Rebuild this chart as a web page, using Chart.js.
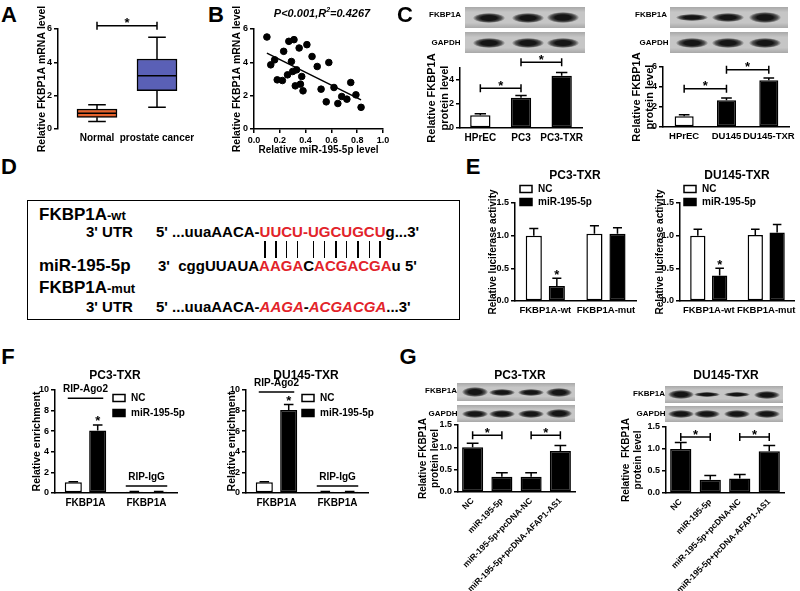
<!DOCTYPE html>
<html>
<head>
<meta charset="utf-8">
<script src="https://cdn.jsdelivr.net/npm/chart.js@4.4.1/dist/chart.umd.min.js"></script>
<style>
body { margin: 0; background: #fff; }
#fig { position: relative; width: 800px; height: 591px; overflow: hidden; font-family: 'Liberation Sans', Arial, sans-serif; font-weight: bold; color: #000; }
#fig canvas { position: absolute; }
.t { position: absolute; white-space: pre; line-height: 1; }
.r { color: #e2232a; }
.strip { position: absolute; background: linear-gradient(#a8a8a8, #c6c6c6 25%, #c6c6c6 75%, #a8a8a8); }
.band { position: absolute; border-radius: 50%; background: radial-gradient(ellipse at center, #151515 35%, rgba(21,21,21,0.65) 55%, rgba(21,21,21,0) 72%); }
.bar { position: absolute; width: 1.5px; background: #000; }
</style>
</head>
<body>
<div id="fig">
  <div style="position:absolute;left:27px;top:200px;width:431px;height:118px;border:1.5px solid #000;"></div>
  <div class="t" style="left:39px;top:205.6px;font-size:17px">FKBP1A<span style="font-size:13px">-wt</span></div>
  <div class="t" style="left:86px;top:224.3px;font-size:15px">3' UTR</div>
  <div class="t" style="left:156px;top:224.3px;font-size:15px">5' ...uuaAACA-<span class="r"><span class="p">U</span><span class="p">U</span><span class="p">C</span><span class="p">U</span>-<span class="p">U</span><span class="p">G</span><span class="p">C</span><span class="p">U</span><span class="p">G</span><span class="p">C</span><span class="p">U</span></span>g...3'</div>
  <div class="t" style="left:39px;top:256.6px;font-size:17px">miR-195-5p</div>
  <div class="t" style="left:158px;top:258.3px;font-size:15px">3'  cggUUAUA<span class="r">AAGA</span>C<span class="r">ACGACGA</span>u 5'</div>
  <div class="t" style="left:39px;top:278.6px;font-size:17px">FKBP1A<span style="font-size:13px">-mut</span></div>
  <div class="t" style="left:86px;top:299.3px;font-size:15px">3' UTR</div>
  <div class="t" style="left:156px;top:299.3px;font-size:15px">5' ...uuaAACA-<i class="r">AAGA</i>-<i class="r">ACGACGA</i>...3'</div>
</div>
<script>
// ---- A: FKBP1A mRNA, box plot ----
const boxGroups = ['Normal', 'prostate cancer'];
const boxMin = [0.45, 1.3];
const boxQ1 = [0.7, 2.3];
const boxMedian = [0.95, 3.2];
const boxQ3 = [1.2, 4.2];
const boxMax = [1.45, 5.5];

// ---- B: correlation ----
const mirLevel = [0.10, 0.13, 0.16, 0.18, 0.22, 0.23, 0.26, 0.27, 0.29, 0.30, 0.31, 0.32, 0.33, 0.35, 0.36, 0.37, 0.38, 0.41, 0.45, 0.49, 0.52, 0.56, 0.58, 0.62, 0.65, 0.68, 0.72, 0.75, 0.79, 0.83];
const fkbpLevel = [5.52, 3.85, 4.15, 2.95, 2.91, 4.66, 3.25, 5.26, 4.05, 3.45, 5.36, 2.59, 3.55, 4.86, 2.69, 3.15, 2.29, 5.06, 4.35, 3.75, 2.39, 1.63, 3.99, 2.49, 1.53, 1.95, 1.79, 2.79, 2.05, 1.30];
const fitX = [0.10, 0.83];
const fitY = [4.55, 1.75];

// ---- C: protein level ----
const cLeftCats = ['HPrEC', 'PC3', 'PC3-TXR'];
const cLeftVals = [1.07, 2.53, 4.35];
const cLeftErr = [0.12, 0.17, 0.28];
const cRightCats = ['HPrEC', 'DU145', 'DU145-TXR'];
const cRightVals = [1.07, 2.67, 4.67];
const cRightErr = [0.16, 0.23, 0.23];

// ---- E: luciferase ----
const lucCats = ['FKBP1A-wt', 'FKBP1A-mut'];
const lucPc3Nc = [1.0, 1.03];
const lucPc3NcErr = [0.11, 0.12];
const lucPc3Mir = [0.23, 1.03];
const lucPc3MirErr = [0.12, 0.09];
const lucDuNc = [1.0, 1.01];
const lucDuNcErr = [0.1, 0.09];
const lucDuMir = [0.39, 1.05];
const lucDuMirErr = [0.11, 0.12];

// ---- F: RIP ----
const ripCats = ['FKBP1A', 'FKBP1A'];
const ripPc3Nc = [1.05, 0.12];
const ripPc3NcErr = [0.05, 0.02];
const ripPc3Mir = [6.06, 0.12];
const ripPc3MirErr = [0.54, 0.02];
const ripDuNc = [1.05, 0.12];
const ripDuNcErr = [0.05, 0.02];
const ripDuMir = [8.06, 0.12];
const ripDuMirErr = [0.54, 0.02];

// ---- G: rescue ----
const gCats = ['NC', 'miR-195-5p', 'miR-195-5p+pcDNA-NC', 'miR-195-5p+pcDNA-AFAP1-AS1'];
const gPc3 = [1.0, 0.34, 0.34, 0.92];
const gPc3Err = [0.09, 0.09, 0.09, 0.12];
const gDu = [1.0, 0.30, 0.33, 0.95];
const gDuErr = [0.15, 0.10, 0.09, 0.13];

const FONT = "'Liberation Sans', Arial, sans-serif";
Chart.defaults.font.family = FONT;
Chart.defaults.font.weight = 'bold';
Chart.defaults.color = '#000';

const fig = document.getElementById('fig');

function text(str, x, y, size, style) {
  const d = document.createElement('div');
  d.className = 't';
  d.style.cssText = `left:${x}px;top:${y}px;font-size:${size}px;transform:translate(-50%,-50%);` + (style || '');
  d.innerHTML = str;
  fig.appendChild(d);
}

function blot(x, y, w, h, centers, bw, bhs) {
  const s = document.createElement('div');
  s.className = 'strip';
  s.style.cssText = `left:${x}px;top:${y}px;width:${w}px;height:${h}px`;
  centers.forEach((c, i) => {
    const b = document.createElement('div');
    b.className = 'band';
    const bh = bhs[i];
    b.style.cssText = `left:${c - x - bw / 2}px;top:${h / 2 - bh / 2}px;width:${bw}px;height:${bh}px`;
    s.appendChild(b);
  });
  fig.appendChild(s);
}

function star(ctx, x, cy) {
  ctx.font = 'bold 13px ' + FONT;
  ctx.textAlign = 'center';
  ctx.textBaseline = 'alphabetic';
  ctx.fillStyle = '#000';
  ctx.fillText('*', x, cy + 7.4);
}

const errorBars = {
  id: 'errorBars',
  afterDatasetsDraw(chart) {
    const ctx = chart.ctx, ys = chart.scales.y;
    chart.data.datasets.forEach((ds, di) => {
      if (!ds.errors) return;
      chart.getDatasetMeta(di).data.forEach((bar, i) => {
        const top = ys.getPixelForValue(ds.data[i] + ds.errors[i]);
        const cap = bar.width * 0.28;
        ctx.save();
        ctx.strokeStyle = '#000';
        ctx.lineWidth = 1.5;
        ctx.beginPath();
        ctx.moveTo(bar.x, bar.y); ctx.lineTo(bar.x, top);
        ctx.moveTo(bar.x - cap, top); ctx.lineTo(bar.x + cap, top);
        ctx.stroke();
        if (ds.stars && ds.stars[i]) star(ctx, bar.x, top - 7);
        ctx.restore();
      });
    });
  }
};

const brackets = {
  id: 'brackets',
  afterDatasetsDraw(chart, args, opts) {
    if (!opts.items) return;
    const ctx = chart.ctx, xs = chart.scales.x, ys = chart.scales.y;
    ctx.save();
    ctx.strokeStyle = '#000';
    ctx.lineWidth = 1.5;
    opts.items.forEach(b => {
      const x1 = xs.getPixelForValue(b.from), x2 = xs.getPixelForValue(b.to), y = ys.getPixelForValue(b.y);
      ctx.beginPath();
      ctx.moveTo(x1, y); ctx.lineTo(x2, y);
      ctx.moveTo(x1, y - 4); ctx.lineTo(x1, y + 4);
      ctx.moveTo(x2, y - 4); ctx.lineTo(x2, y + 4);
      ctx.stroke();
      star(ctx, (x1 + x2) / 2, y - 6);
    });
    ctx.restore();
  }
};

const groupLines = {
  id: 'groupLines',
  afterDatasetsDraw(chart, args, opts) {
    if (!opts.items) return;
    const ctx = chart.ctx, ys = chart.scales.y;
    const a = chart.getDatasetMeta(0).data, b = chart.getDatasetMeta(1).data;
    ctx.save();
    ctx.strokeStyle = '#000';
    ctx.lineWidth = 1.5;
    ctx.font = 'bold 10px ' + FONT;
    ctx.textAlign = 'center';
    ctx.textBaseline = 'middle';
    opts.items.forEach(g => {
      const l = a[g.index].x - a[g.index].width / 2 + g.inset;
      const r = b[g.index].x + b[g.index].width / 2 - g.inset;
      const y = ys.getPixelForValue(g.y);
      ctx.beginPath(); ctx.moveTo(l, y); ctx.lineTo(r, y); ctx.stroke();
      ctx.fillText(g.text, (l + r) / 2, y - 9);
    });
    ctx.restore();
  }
};

const boxLegend = {
  id: 'boxLegend',
  afterDraw(chart, args, o) {
    if (o.x == null) return;
    const ctx = chart.ctx;
    ctx.save();
    ctx.font = 'bold 10px ' + FONT;
    ctx.textAlign = 'left';
    ctx.textBaseline = 'middle';
    ctx.lineWidth = 1.5;
    ctx.strokeStyle = '#000';
    chart.data.datasets.forEach((ds, i) => {
      const y = o.y + i * o.gap;
      ctx.fillStyle = ds.backgroundColor;
      ctx.fillRect(o.x, y - 3.5, 12, 7);
      ctx.strokeRect(o.x, y - 3.5, 12, 7);
      ctx.fillStyle = '#000';
      ctx.fillText(ds.label, o.x + 18, y);
    });
    ctx.restore();
  }
};

const whiskers = {
  id: 'whiskers',
  afterDatasetsDraw(chart, args, o) {
    if (!o.med) return;
    const ctx = chart.ctx, ys = chart.scales.y;
    const py = v => ys.getPixelForValue(v);
    ctx.save();
    ctx.strokeStyle = '#000';
    ctx.lineWidth = 1.5;
    chart.getDatasetMeta(0).data.forEach((bx, i) => {
      const hw = bx.width / 2, cap = bx.width * 0.22;
      ctx.beginPath();
      ctx.moveTo(bx.x - hw, py(o.med[i])); ctx.lineTo(bx.x + hw, py(o.med[i]));
      ctx.moveTo(bx.x, py(o.q3[i])); ctx.lineTo(bx.x, py(o.max[i]));
      ctx.moveTo(bx.x - cap, py(o.max[i])); ctx.lineTo(bx.x + cap, py(o.max[i]));
      ctx.moveTo(bx.x, py(o.q1[i])); ctx.lineTo(bx.x, py(o.min[i]));
      ctx.moveTo(bx.x - cap, py(o.min[i])); ctx.lineTo(bx.x + cap, py(o.min[i]));
      ctx.stroke();
    });
    ctx.restore();
  }
};

Chart.register(errorBars, brackets, groupLines, boxLegend, whiskers);

// box = [left, top, width, height] of canvas, area = [x0, y0, x1, y1] of plot, both page px
function mount(box, area) {
  const c = document.createElement('canvas');
  c.width = box[2];
  c.height = box[3];
  c.style.left = box[0] + 'px';
  c.style.top = box[1] + 'px';
  fig.appendChild(c);
  return {
    canvas: c,
    padding: {left: 0, top: area[1] - box[1], right: box[0] + box[2] - area[2], bottom: 0},
    yW: area[0] - box[0],
    xH: box[1] + box[3] - area[3],
    lx: x => x - box[0],
    ly: y => y - box[1]
  };
}

function yAxis(m, min, max, step, title, size, dec) {
  return {
    min: min, max: max,
    afterFit: s => { s.width = m.yW; },
    ticks: {stepSize: step, font: {size: 9}, padding: 2, callback: v => dec ? v.toFixed(1) : v},
    grid: {drawOnChartArea: false, drawTicks: true, tickLength: 4, color: '#000', lineWidth: 1.5},
    border: {color: '#000', width: 1.5},
    title: {display: true, text: title, font: {size: size}, padding: 0}
  };
}

function xCat(m, size, rot) {
  return {
    afterFit: s => { s.height = m.xH; },
    grid: {display: false, drawTicks: false},
    border: {color: '#000', width: 1.5},
    ticks: {font: {size: size}, padding: 4, autoSkip: false, minRotation: rot || 0, maxRotation: rot || 0}
  };
}

function bars(label, data, errors, fill, stars) {
  return {label, data, errors, stars, backgroundColor: fill, borderColor: '#000', borderWidth: 1.5, borderSkipped: false};
}

function barChart(box, area, cats, datasets, y, xs, widths, plugins) {
  const m = mount(box, area);
  const p = plugins(m);
  return new Chart(m.canvas, {
    type: 'bar',
    data: {labels: cats, datasets: datasets},
    options: {
      responsive: false, animation: false, devicePixelRatio: 1,
      layout: {padding: m.padding},
      datasets: {bar: {categoryPercentage: widths[0], barPercentage: widths[1]}},
      plugins: Object.assign({legend: {display: false}, tooltip: {enabled: false}}, p),
      scales: {x: xCat(m, xs[0], xs[1]), y: y(m)}
    }
  });
}

// ---------- Panel A ----------
(function () {
  const m = mount([36, 2, 170, 153], [58, 29, 196, 129]);
  new Chart(m.canvas, {
    type: 'bar',
    data: {datasets: [{
      data: boxGroups.map((g, i) => ({x: i + 1, y: [boxQ1[i], boxQ3[i]]})),
      backgroundColor: ['#e5622c', '#5a60b6'],
      borderColor: '#000', borderWidth: 1.5, borderSkipped: false, barThickness: 40
    }]},
    options: {
      responsive: false, animation: false, devicePixelRatio: 1,
      layout: {padding: m.padding},
      plugins: {
        legend: {display: false}, tooltip: {enabled: false},
        whiskers: {min: boxMin, q1: boxQ1, med: boxMedian, q3: boxQ3, max: boxMax},
        brackets: {items: [{from: 1, to: 2, y: 6.2}]}
      },
      scales: {
        x: {
          type: 'linear', min: 0.35, max: 2.65, offset: false,
          afterFit: s => { s.height = m.xH; },
          afterBuildTicks: s => { s.ticks = boxGroups.map((g, i) => ({value: i + 1})); },
          grid: {display: false, drawTicks: false}, border: {display: false},
          ticks: {autoSkip: false, maxRotation: 0, font: {size: 10}, padding: 3, callback: v => boxGroups[v - 1]}
        },
        y: yAxis(m, 0, 6, 2, 'Relative FKBP1A mRNA level', 10.5, false)
      }
    }
  });
})();

// ---------- Panel B ----------
(function () {
  const m = mount([231, 2, 161, 154], [254, 29, 383, 129]);
  const y = yAxis(m, 0, 6, 2, 'Relative FKBP1A mRNA level', 10.5, false);
  new Chart(m.canvas, {
    type: 'scatter',
    data: {datasets: [
      {data: mirLevel.map((x, i) => ({x: x, y: fkbpLevel[i]})), backgroundColor: '#000', borderColor: '#000', pointRadius: 3.3},
      {type: 'line', data: fitX.map((x, i) => ({x: x, y: fitY[i]})), borderColor: '#000', borderWidth: 1.5, pointRadius: 0, fill: false}
    ]},
    options: {
      responsive: false, animation: false, devicePixelRatio: 1,
      layout: {padding: m.padding},
      plugins: {legend: {display: false}, tooltip: {enabled: false}},
      scales: {
        x: {
          type: 'linear', min: 0, max: 1,
          afterFit: s => { s.height = m.xH; },
          ticks: {stepSize: 0.2, font: {size: 9}, padding: 2, callback: v => v.toFixed(1)},
          grid: {drawOnChartArea: false, drawTicks: true, tickLength: 4, color: '#000', lineWidth: 1.5},
          border: {color: '#000', width: 1.5},
          title: {display: true, text: 'Relative miR-195-5p level', font: {size: 10}, padding: 0}
        },
        y: y
      }
    }
  });
})();

// ---------- Panel C ----------
barChart([425, 40, 167, 102], [460, 68, 582, 128], cLeftCats,
  [bars('level', cLeftVals, cLeftErr, ['#fff', '#000', '#000'])],
  m => yAxis(m, 0, 5, 1, ['Relative FKBP1A', 'protein level'], 11, false), [10], [1, 0.5],
  m => ({brackets: {items: [{from: 0, to: 1, y: 3.31}, {from: 1, to: 2, y: 5.48}]}}));

barChart([630, 40, 170, 102], [663, 67, 792, 127], cRightCats,
  [bars('level', cRightVals, cRightErr, ['#fff', '#000', '#000'])],
  m => yAxis(m, 0, 6, 2, ['Relative FKBP1A', 'protein level'], 11, false), [9.5], [1, 0.45],
  m => ({brackets: {items: [{from: 0, to: 1, y: 3.83}, {from: 1, to: 2, y: 5.73}]}}));

// ---------- Panel E ----------
barChart([487, 180, 153, 135], [515, 203, 637, 301], lucCats,
  [bars('NC', lucPc3Nc, lucPc3NcErr, '#fff'), bars('miR-195-5p', lucPc3Mir, lucPc3MirErr, '#000', [true, false])],
  m => yAxis(m, 0, 1.5, 0.5, 'Relative luciferase activity', 10, true), [9.5], [0.76, 0.7],
  m => ({boxLegend: {x: m.lx(520), y: m.ly(189), gap: 13}}));

barChart([654, 180, 146, 135], [680, 203, 798, 301], lucCats,
  [bars('NC', lucDuNc, lucDuNcErr, '#fff'), bars('miR-195-5p', lucDuMir, lucDuMirErr, '#000', [true, false])],
  m => yAxis(m, 0, 1.5, 0.5, 'Relative luciferase activity', 10, true), [9.5], [0.76, 0.7],
  m => ({boxLegend: {x: m.lx(684), y: m.ly(189), gap: 13}}));

// ---------- Panel F ----------
barChart([31, 378, 160, 134], [55, 390, 177, 493], ripCats,
  [bars('NC', ripPc3Nc, ripPc3NcErr, '#fff'), bars('miR-195-5p', ripPc3Mir, ripPc3MirErr, '#000', [true, false])],
  m => yAxis(m, 0, 10, 2, 'Relative enrichment', 10.5, false), [10], [0.8, 0.7],
  m => ({
    boxLegend: {x: m.lx(113), y: m.ly(398), gap: 15},
    groupLines: {items: [{index: 0, y: 9.2, text: 'RIP-Ago2', inset: 3}, {index: 1, y: 0.68, text: 'RIP-IgG', inset: 0}]}
  }));

barChart([226, 376, 160, 136], [246, 390, 368, 493], ripCats,
  [bars('NC', ripDuNc, ripDuNcErr, '#fff'), bars('miR-195-5p', ripDuMir, ripDuMirErr, '#000', [true, false])],
  m => yAxis(m, 0, 10, 2, 'Relative enrichment', 10.5, false), [10], [0.8, 0.7],
  m => ({
    boxLegend: {x: m.lx(302), y: m.ly(398), gap: 15},
    groupLines: {items: [{index: 0, y: 9.8, text: 'RIP-Ago2', inset: 3}, {index: 1, y: 0.68, text: 'RIP-IgG', inset: 0}]}
  }));

// ---------- Panel G ----------
barChart([417, 412, 163, 179], [458, 425, 575, 492], gCats,
  [bars('level', gPc3, gPc3Err, '#000')],
  m => yAxis(m, 0, 1.5, 0.5, ['Relative FKBP1A', 'protein level'], 10, true), [8.5, 45], [1, 0.72],
  m => ({brackets: {items: [{from: 0, to: 1, y: 1.27}, {from: 2, to: 3, y: 1.27}]}}));

barChart([620, 412, 175, 179], [666, 427, 784, 493], gCats,
  [bars('level', gDu, gDuErr, '#000')],
  m => yAxis(m, 0, 1.5, 0.5, ['Relative  FKBP1A', 'protein level'], 10, true), [8.5, 45], [1, 0.72],
  m => ({brackets: {items: [{from: 0, to: 1, y: 1.27}, {from: 2, to: 3, y: 1.27}]}}));

// ---------- blots ----------
blot(465, 7, 120, 21, [489, 528, 563], 32, [10, 10, 11]);
blot(465, 32, 120, 21, [489, 528, 563], 32, [10, 10, 10]);
blot(670, 7, 118, 21, [692, 728, 765], 32, [7, 9, 11]);
blot(670, 32, 118, 21, [692, 728, 765], 32, [10, 10, 10]);
blot(457, 383, 118, 18, [475, 502, 531, 559], 26, [10, 7, 7, 9]);
blot(457, 405, 118, 17, [475, 502, 531, 559], 26, [8, 8, 8, 9]);
blot(665, 386, 118, 17, [681, 707, 737, 767], 26, [9, 5, 5, 8]);
blot(665, 406, 118, 16, [681, 707, 737, 767], 26, [8, 8, 8, 8]);

// ---------- texts ----------
text('A', 9, 15, 22); text('B', 216, 15, 22); text('C', 405, 15, 22);
text('D', 9, 167, 22); text('E', 473, 167, 22); text('F', 8, 357, 22); text('G', 408, 357, 22);
text('<i>P&lt;0.001,R<sup style="font-size:7px">2</sup>=0.4267</i>', 322, 12, 11);
text('FKBP1A', 445, 15, 8); text('GAPDH', 446, 43, 8);
text('FKBP1A', 651, 15, 8); text('GAPDH', 654, 43, 8);
text('PC3-TXR', 575, 175, 12); text('DU145-TXR', 737, 175, 12);
text('PC3-TXR', 115, 375, 12); text('DU145-TXR', 306, 375, 12);
text('PC3-TXR', 520, 375, 12); text('DU145-TXR', 726, 375, 12);
text('FKBP1A', 441, 391, 8); text('GAPDH', 443, 414, 8);
text('FKBP1A', 649, 394, 8); text('GAPDH', 651, 414, 8);

// pairing lines in panel D under the wt 3' UTR letters
document.querySelectorAll('.p').forEach(s => {
  const r = s.getBoundingClientRect();
  const d = document.createElement('div');
  d.className = 'bar';
  d.style.cssText = `left:${r.left + r.width / 2 - 0.75}px;top:241px;height:17px`;
  fig.appendChild(d);
});
</script>
</body>
</html>
